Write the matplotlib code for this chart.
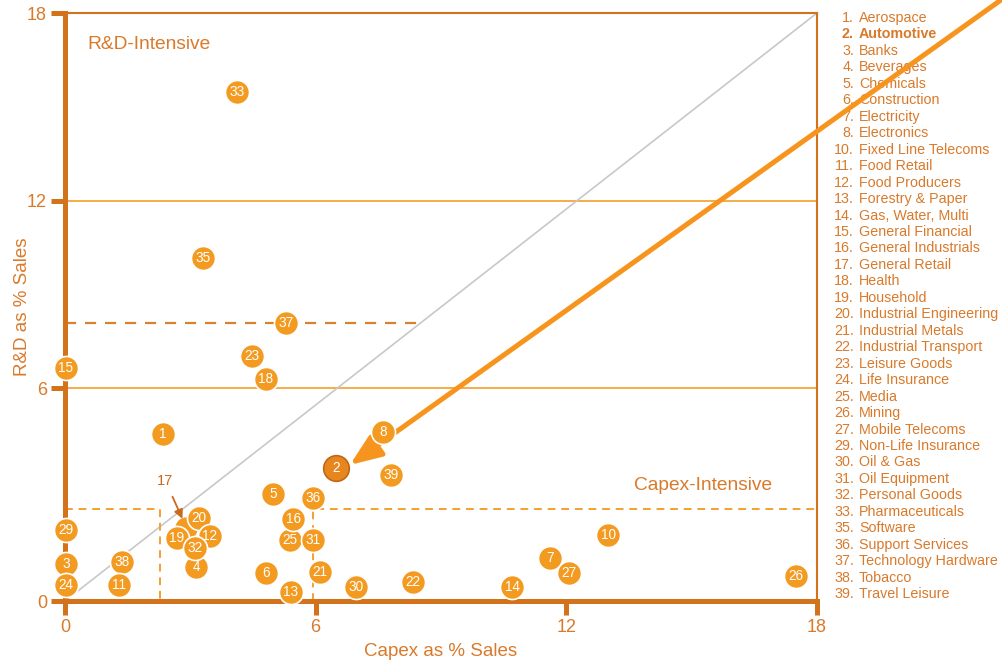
import numpy as np
import matplotlib.pyplot as plt

plt.rcParams['font.family'] = ['Liberation Sans', 'DejaVu Sans']

# sector id -> (capex % sales, R&D % sales)
ids = [17, 15, 29, 3, 24, 38, 11, 1, 33, 35, 37, 23, 18, 4, 19, 20, 12, 32,
       5, 6, 25, 16, 31, 36, 13, 21, 30, 22, 8, 39, 14, 7, 27, 10, 26, 2]
capex = [2.90, 0.02, 0.02, 0.02, 0.02, 1.36, 1.29, 2.35, 4.12, 3.30, 5.29, 4.48, 4.81,
         3.14, 2.68, 3.21, 3.47, 3.11, 4.98, 4.81, 5.39, 5.46, 5.94, 5.94, 5.41, 6.10,
         6.96, 8.33, 7.61, 7.80, 10.70, 11.61, 12.06, 13.00, 17.50, 6.49]
rnd = [1.53, 6.65, 1.47, 0.38, -0.29, 0.45, -0.29, 4.54, 15.46, 10.16, 8.08, 7.03, 6.29,
       0.29, 1.21, 1.85, 1.28, 0.89, 2.62, 0.10, 1.15, 1.82, 1.15, 2.49, -0.51, 0.13,
       -0.35, -0.19, 4.60, 3.23, -0.35, 0.58, 0.10, 1.31, 0.0, 3.45]

sectors = ['Aerospace', 'Automotive', 'Banks', 'Beverages', 'Chemicals', 'Construction',
           'Electricity', 'Electronics', 'Fixed Line Telecoms', 'Food Retail',
           'Food Producers', 'Forestry & Paper', 'Gas, Water, Multi', 'General Financial',
           'General Industrials', 'General Retail', 'Health', 'Household',
           'Industrial Engineering', 'Industrial Metals', 'Industrial Transport',
           'Leisure Goods', 'Life Insurance', 'Media', 'Mining', 'Mobile Telecoms',
           'Non-Life Insurance', 'Oil & Gas', 'Oil Equipment', 'Personal Goods',
           'Pharmaceuticals', 'Software', 'Support Services', 'Technology Hardware',
           'Tobacco', 'Travel Leisure']
sector_nums = [1, 2, 3, 4, 5, 6, 7, 8, 10, 11, 12, 13, 14, 15, 16, 17, 18, 19, 20, 21,
               22, 23, 24, 25, 26, 27, 29, 30, 31, 32, 33, 35, 36, 37, 38, 39]

# reference lines
mid_levels = [6, 12]
rd_dash = 8.1
low_box = (2.27, 2.14)   # capex, R&D of the small dashed box corner
cap_box = (5.93, 2.14)

SPINE = '#D2731C'
TEXT = '#D97A2B'
DOT = '#F39A21'
LINE = '#F5A53A'

fig = plt.figure(figsize=(10.03, 6.60), dpi=100)
ax = fig.add_axes([65 / 1003, 59 / 660, 752 / 1003, 588 / 660])
ymin = -0.8
ax.set_xlim(0, 18)
ax.set_ylim(ymin, 18)

for s in ['left', 'bottom']:
    ax.spines[s].set_linewidth(3.6)
    ax.spines[s].set_color(SPINE)
for s in ['top', 'right']:
    ax.spines[s].set_linewidth(1.5)
    ax.spines[s].set_color(SPINE)

ax.set_xticks([0, 6, 12, 18])
ax.set_xticklabels(['0', '6', '12', '18'])
ax.set_yticks([ymin, 6, 12, 18])
ax.set_yticklabels(['0', '6', '12', '18'])
ax.tick_params(length=10, width=3.6, color=SPINE, labelcolor=TEXT, labelsize=13, pad=3)

ax.set_xlabel('Capex as % Sales', color=TEXT, fontsize=13.5, labelpad=5)
ax.set_ylabel('R&D as % Sales', color=TEXT, fontsize=13.5, labelpad=-3)

# quadrant guides
for lv in mid_levels:
    ax.axhline(lv, color=LINE, lw=1.3, zorder=1)
ax.plot([0, 18], [ymin, 18], color='#C8C8C8', lw=1.2, zorder=1)
ax.plot([0, 8.45], [rd_dash, rd_dash], color='#D9822E', lw=1.6, ls=(0, (5, 4)), zorder=1)
ax.plot([0, low_box[0], low_box[0]], [low_box[1], low_box[1], ymin],
        color='#F5A030', lw=1.4, ls=(0, (4, 3)), zorder=1)
ax.plot([cap_box[0], cap_box[0], 18], [ymin, cap_box[1], cap_box[1]],
        color='#F5A030', lw=1.4, ls=(0, (4, 3)), zorder=1)

ax.text(0.53, 17.0, 'R&D-Intensive', color=TEXT, fontsize=13.8, va='center')
ax.text(16.92, 2.88, 'Capex-Intensive', color=TEXT, fontsize=13.8, va='center', ha='right')

# sector list (drawn low so the big arrow runs over it)
for i, (num, name) in enumerate(zip(sector_nums, sectors)):
    yf = 1 - (18 + i * 16.46) / 660
    w = 'bold' if num == 2 else 'normal'
    ax.text(854 / 1003, yf, f'{num}.', color=TEXT, fontsize=10.3, ha='right',
            va='center', weight=w, transform=fig.transFigure, clip_on=False, zorder=1)
    ax.text(859 / 1003, yf, name, color=TEXT, fontsize=10.3, ha='left',
            va='center', weight=w, transform=fig.transFigure, clip_on=False, zorder=1)

# big arrow to Automotive
ax.annotate('', xy=(6.82, 3.55), xytext=(22.7, 18.7), annotation_clip=False,
            arrowprops=dict(arrowstyle='-|>,head_length=1.9,head_width=0.75',
                            color='#F7941D', lw=3.6, shrinkA=0, shrinkB=0),
            zorder=4)

for i, (n, x, y) in enumerate(zip(ids, capex, rnd)):
    z = 5 + 2 * i
    if n == 2:
        ax.scatter(x, y, s=340, color='#E8861E', edgecolor='#C0661A', lw=1.2,
                   zorder=z, clip_on=False)
    else:
        ax.scatter(x, y, s=300, color=DOT, edgecolor='white', lw=1.2,
                   zorder=z, clip_on=False)
    if n != 17:  # 17's circle is buried; it is labelled by the callout below
        ax.text(x, y, str(n), color='white', fontsize=9.8, ha='center', va='center',
                zorder=z + 1, clip_on=False)

ax.annotate('17', xy=(2.81, 1.83), xytext=(2.40, 3.05), color='#C8691E', fontsize=10.5,
            ha='center', va='center',
            arrowprops=dict(arrowstyle='-|>,head_length=0.5,head_width=0.25',
                            color='#C8691E', lw=1.3, shrinkA=5, shrinkB=0),
            zorder=100)

fig.savefig('out.png', dpi=100)
